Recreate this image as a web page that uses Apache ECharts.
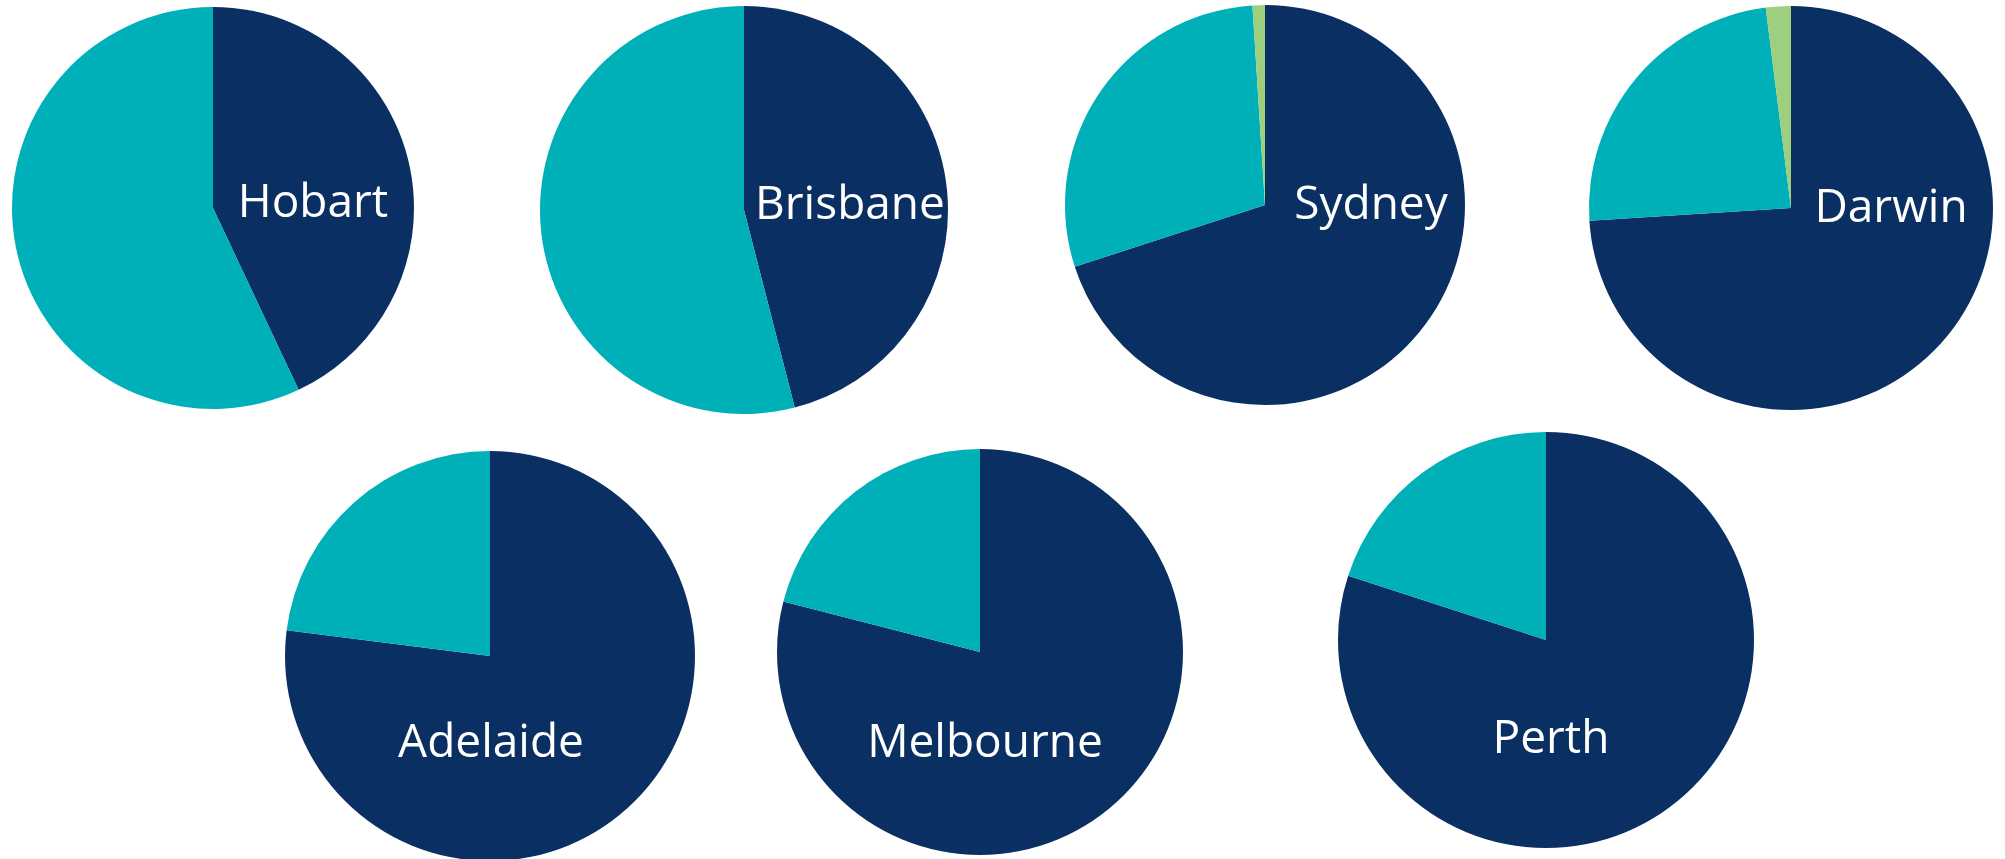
<!DOCTYPE html>
<html>
<head>
<meta charset="utf-8">
<title>Cities</title>
<script src="https://cdn.jsdelivr.net/npm/echarts@6/dist/echarts.min.js"></script>
<style>
  html, body {
    margin: 0;
    padding: 0;
    background: #ffffff;
  }
  #chart {
    width: 2005px;
    height: 859px;
  }
</style>
</head>
<body>
<div id="chart"></div>
<script>
// 数据
const categories = ['Category 1', 'Category 2', 'Category 3'];
const cities = ['Hobart', 'Brisbane', 'Sydney', 'Darwin', 'Adelaide', 'Melbourne', 'Perth'];
const hobart = [43, 57];
const brisbane = [46, 54];
const sydney = [70, 29, 1];
const darwin = [74, 24, 2];
const adelaide = [77, 23];
const melbourne = [79, 21];
const perth = [80, 20];
const cityValues = [hobart, brisbane, sydney, darwin, adelaide, melbourne, perth];

// 布局：饼图中心、半径、文字偏移
const layout = [
  { center: [213, 208], radius: 201, text: [100, -4] },
  { center: [744, 210], radius: 204, text: [106, -4] },
  { center: [1265, 205], radius: 200, text: [106, 1] },
  { center: [1791, 208], radius: 202, text: [100, 1] },
  { center: [490, 656], radius: 205, text: [1, 88] },
  { center: [980, 652], radius: 203, text: [5, 92] },
  { center: [1546, 640], radius: 208, text: [5, 100] }
];

const colors = ['#0a2f63', '#00b0b9', '#9dcf7e'];

const chartInstance = echarts.init(document.getElementById('chart'));

const series = cities.map(function (city, i) {
  return {
    name: city,
    type: 'pie',
    center: layout[i].center,
    radius: layout[i].radius,
    startAngle: 90,
    clockwise: true,
    silent: true,
    label: { show: false },
    labelLine: { show: false },
    itemStyle: { borderWidth: 0 },
    data: cityValues[i].map(function (v, j) {
      return { name: categories[j], value: v, itemStyle: { color: colors[j] } };
    })
  };
});

// 城市名称
const texts = cities.map(function (city, i) {
  return {
    type: 'text',
    x: layout[i].center[0] + layout[i].text[0],
    y: layout[i].center[1] + layout[i].text[1],
    z: 100,
    silent: true,
    style: {
      text: city,
      fill: '#ffffff',
      fontSize: 46,
      fontFamily: 'Open Sans',
      align: 'center',
      verticalAlign: 'middle'
    }
  };
});

chartInstance.setOption({
  animation: false,
  backgroundColor: '#ffffff',
  series: series,
  graphic: { elements: texts }
});
</script>
</body>
</html>
